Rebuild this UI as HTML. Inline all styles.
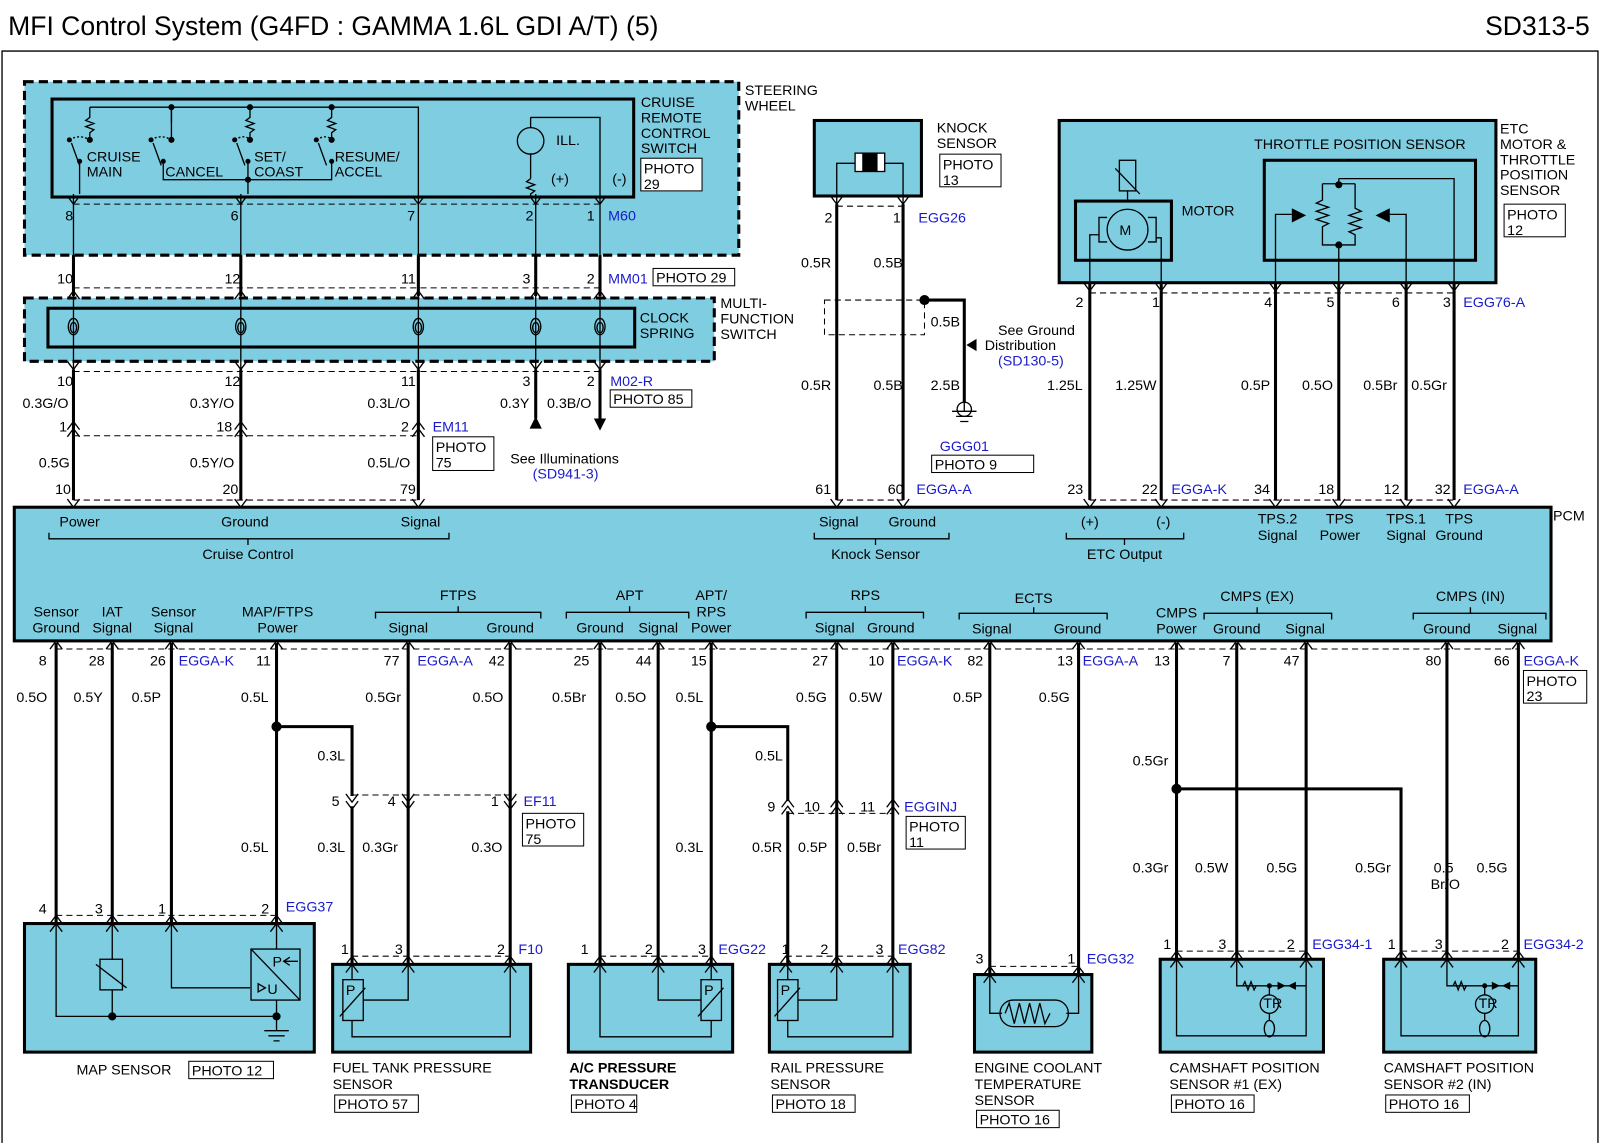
<!DOCTYPE html>
<html><head><meta charset="utf-8"><style>
html,body{margin:0;padding:0;background:#fff}
svg{display:block}
text{font-family:"Liberation Sans",Arial,sans-serif;font-size:14px;fill:#000}
.b{fill:#1a1acc}
.t{font-size:26px}
.bx{fill:#7ecde0;stroke:#000;stroke-width:3}
.ib{fill:none;stroke:#000;stroke-width:3}
.dsh{fill:#7ecde0;stroke:#000;stroke-width:3;stroke-dasharray:9,5}
.w{stroke:#000;stroke-width:3;fill:none}
.tn{stroke:#000;stroke-width:1.3;fill:none}
.cd{stroke:#000;stroke-width:1;stroke-dasharray:6,4;fill:none}
.pb{fill:#fff;stroke:#000;stroke-width:1}
</style></head><body>
<svg width="1600" height="1143" viewBox="0 0 1568 1120" xmlns="http://www.w3.org/2000/svg">
<defs>
<g id="d"><polyline points="-6,-8 0,0 6,-8" class="tn"/></g>
<g id="u"><polyline points="-6,8 0,0 6,8" class="tn"/></g>
<g id="sp"><path d="M0,-8 a5,8 0 1 1 -0.1,0 M0,-4 a3,5 0 1 0 0.1,0" class="tn"/></g>
</defs>
<rect x="0" y="0" width="1568" height="1120" fill="#fff"/>
<text x="8" y="34" class="t">MFI Control System (G4FD : GAMMA 1.6L GDI A/T) (5)</text>
<text x="1558" y="34" class="t" text-anchor="end">SD313-5</text>
<path d="M2,1120 V50 H1566 V1120" class="tn" stroke-width="1.5"/>

<!-- Steering wheel -->
<rect x="24" y="80" width="700" height="170" class="dsh"/>
<rect x="51" y="97" width="570" height="96" class="ib"/>
<g class="tn">
<path d="M88,105 H410 V190 M168,105 V120"/>
<path d="M88,105 V115 l-4,3 8,3 -8,3 8,3 -4,3 V135 M245,105 V115 l-4,3 8,3 -8,3 8,3 -4,3 V135 M325,105 V115 l-4,3 8,3 -8,3 8,3 -4,3 V135 M168,105 V137"/>
<path d="M70,140 l8,22 M150,140 l8,22 M232,140 l8,22 M312,140 l8,22"/>
<path d="M68,137 q10,-6 20,0 M148,137 q10,-6 20,0 M230,137 q10,-6 15,0 M310,137 q10,-6 15,0" stroke-dasharray="2,2"/>
<path d="M160,158 V176 H325 V158 M243,158 V176"/>
<path d="M78,158 V190 M243,176 V190"/>
<path d="M520,115 V125 M520,150 V175 M520,115 H588 V190 M520,175 l-4,3 8,3 -8,3 8,3 -4,3 V192"/>
<circle cx="520" cy="138" r="13"/>
</g>
<g fill="#000"><circle cx="168" cy="105" r="3"/><circle cx="245" cy="105" r="3"/><circle cx="325" cy="105" r="3"/><circle cx="243" cy="176" r="3"/>
<circle cx="88" cy="137" r="3"/><circle cx="168" cy="137" r="3"/><circle cx="245" cy="137" r="3"/><circle cx="325" cy="137" r="3"/>
<circle cx="68" cy="137" r="2.5"/><circle cx="148" cy="137" r="2.5"/><circle cx="230" cy="137" r="2.5"/><circle cx="310" cy="137" r="2.5"/>
<circle cx="78" cy="158" r="2.5"/><circle cx="160" cy="158" r="2.5"/><circle cx="243" cy="158" r="2.5"/><circle cx="325" cy="158" r="2.5"/></g>
<text x="85" y="158">CRUISE</text><text x="85" y="173">MAIN</text>
<text x="162" y="173">CANCEL</text>
<text x="249" y="158">SET/</text><text x="249" y="173">COAST</text>
<text x="328" y="158">RESUME/</text><text x="328" y="173">ACCEL</text>
<text x="545" y="142">ILL.</text><text x="540" y="180">(+)</text><text x="600" y="180">(-)</text>
<text x="628" y="105">CRUISE</text><text x="628" y="120">REMOTE</text><text x="628" y="135">CONTROL</text><text x="628" y="150">SWITCH</text>
<rect x="628" y="155" width="60" height="32" class="pb"/><text x="631" y="170">PHOTO</text><text x="631" y="185">29</text>
<text x="730" y="93">STEERING</text><text x="730" y="108">WHEEL</text>
<path d="M72,200 H588" class="cd"/>
<g class="tn"><path d="M72,190 V262 M236,190 V262 M410,190 V262 M525,190 V262 M588,190 V262"/></g>
<use href="#d" x="72" y="200"/><use href="#d" x="236" y="200"/><use href="#d" x="410" y="200"/><use href="#d" x="525" y="200"/><use href="#d" x="588" y="200"/>
<text x="64" y="216">8</text><text x="226" y="216">6</text><text x="399" y="216">7</text><text x="515" y="216">2</text><text x="575" y="216">1</text><text x="596" y="216" class="b">M60</text>
<g class="w"><path d="M72,250 V290 M236,250 V290 M410,250 V290 M525,250 V290 M588,250 V290"/></g>
<text x="56" y="278">10</text><text x="220" y="278">12</text><text x="393" y="278">11</text><text x="512" y="278">3</text><text x="575" y="278">2</text>
<text x="596" y="278" class="b">MM01</text><rect x="640" y="263" width="80" height="17" class="pb"/><text x="643" y="277">PHOTO 29</text>
<path d="M72,282 H588" class="cd"/>

<!-- Clock spring -->
<rect x="24" y="292" width="676" height="62" class="dsh"/>
<rect x="47" y="302" width="575" height="38" class="ib"/>
<g class="tn"><path d="M72,285 V362 M236,285 V362 M410,285 V362 M525,285 V362 M588,285 V362"/></g>
<use href="#sp" x="72" y="320"/><use href="#sp" x="236" y="320"/><use href="#sp" x="410" y="320"/><use href="#sp" x="525" y="320"/><use href="#sp" x="588" y="320"/>
<use href="#u" x="72" y="285"/><use href="#u" x="236" y="285"/><use href="#u" x="410" y="285"/><use href="#u" x="525" y="285"/><use href="#u" x="588" y="285"/>
<use href="#d" x="72" y="362"/><use href="#d" x="236" y="362"/><use href="#d" x="410" y="362"/><use href="#d" x="525" y="362"/><use href="#d" x="588" y="362"/>
<text x="627" y="316">CLOCK</text><text x="627" y="331">SPRING</text>
<text x="706" y="302">MULTI-</text><text x="706" y="317">FUNCTION</text><text x="706" y="332">SWITCH</text>
<path d="M72,364 H588" class="cd"/>
<text x="56" y="378">10</text><text x="220" y="378">12</text><text x="393" y="378">11</text><text x="512" y="378">3</text><text x="575" y="378">2</text>
<text x="598" y="378" class="b">M02-R</text><rect x="598" y="382" width="80" height="17" class="pb"/><text x="601" y="396">PHOTO 85</text>
<g class="w"><path d="M72,362 V490 M236,362 V490 M410,362 V490 M525,362 V410 M588,362 V410"/></g>
<path d="M519,420 L525,408 L531,420 Z M582,410 L588,422 L594,410 Z"/>
<text x="22" y="400">0.3G/O</text><text x="186" y="400">0.3Y/O</text><text x="360" y="400">0.3L/O</text><text x="490" y="400">0.3Y</text><text x="536" y="400">0.3B/O</text>
<path d="M72,427 H410" class="cd"/>
<use href="#u" x="72" y="413"/><use href="#u" x="72" y="420"/><use href="#u" x="236" y="413"/><use href="#u" x="236" y="420"/><use href="#u" x="410" y="413"/><use href="#u" x="410" y="420"/>
<text x="58" y="423">1</text><text x="212" y="423">18</text><text x="393" y="423">2</text><text x="424" y="423" class="b">EM11</text>
<rect x="424" y="428" width="60" height="33" class="pb"/><text x="427" y="443">PHOTO</text><text x="427" y="458">75</text>
<text x="500" y="454">See Illuminations</text><text x="522" y="469" class="b">(SD941-3)</text>
<text x="38" y="458">0.5G</text><text x="186" y="458">0.5Y/O</text><text x="360" y="458">0.5L/O</text>

<!-- Knock sensor -->
<rect x="798" y="118" width="105" height="74" class="bx"/>
<g class="tn"><path d="M820,200 V160 H838 M867,160 H885 V200"/><rect x="838" y="150" width="29" height="18" fill="#fff"/></g>
<rect x="845" y="150" width="15" height="18" fill="#000"/>
<text x="918" y="130">KNOCK</text><text x="918" y="145">SENSOR</text>
<rect x="921" y="151" width="60" height="32" class="pb"/><text x="924" y="166">PHOTO</text><text x="924" y="181">13</text>
<path d="M820,202 H885" class="cd"/><use href="#d" x="820" y="200"/><use href="#d" x="885" y="200"/>
<text x="808" y="218">2</text><text x="875" y="218">1</text><text x="900" y="218" class="b">EGG26</text>
<g class="w"><path d="M820,200 V490 M885,200 V490 M906,294 H945 V395"/></g>
<circle cx="906" cy="294" r="5"/>
<rect x="808" y="294" width="98" height="34" class="cd"/>
<path d="M957,332 L947,338 957,344 Z"/>
<g class="tn"><path d="M945,395 V403 M933,403 H957 M937,408 H953 M941,413 H949"/><circle cx="945" cy="401" r="7" fill="none"/></g>
<text x="785" y="262">0.5R</text><text x="856" y="262">0.5B</text>
<text x="912" y="320">0.5B</text>
<text x="978" y="328">See Ground</text><text x="965" y="343">Distribution</text><text x="978" y="358" class="b">(SD130-5)</text>
<text x="785" y="382">0.5R</text><text x="856" y="382">0.5B</text><text x="912" y="382">2.5B</text>
<text x="921" y="442" class="b">GGG01</text><rect x="913" y="446" width="100" height="17" class="pb"/><text x="916" y="460">PHOTO 9</text>

<!-- ETC -->
<rect x="1038" y="118" width="428" height="159" class="bx"/>
<rect x="1054" y="197" width="94" height="58" class="ib"/>
<rect x="1239" y="157" width="207" height="98" class="ib"/>
<g class="tn">
<rect x="1097" y="157" width="16" height="30"/><path d="M1093,165 L1117,190 M1105,187 V197"/>
<circle cx="1105" cy="225" r="20"/>
<path d="M1085,213 H1077 V237 H1085 M1125,213 H1133 V237 H1125 M1077,230 H1068 V285 M1133,233 H1138 V285"/>
<path d="M1312,175 H1425 V285 M1312,175 V180 M1296,180 H1328 M1296,180 V196 l-6,3 12,4 -12,4 12,4 -12,4 12,4 -6,3 V240 H1328 V230 l-6,-3 12,-4 -12,-4 12,-4 -12,-4 12,-4 -6,-3 V180 M1312,240 V285"/>
<path d="M1250,285 V210 H1266 M1378,285 V210 H1362"/>
</g>
<path d="M1266,204 L1280,211 1266,218 Z M1362,204 L1348,211 1362,218 Z"/>
<circle cx="1312" cy="181" r="3.5"/><circle cx="1312" cy="240" r="3.5"/>
<text x="1097" y="230" font-size="12">M</text>
<text x="1158" y="211">MOTOR</text>
<text x="1229" y="146">THROTTLE POSITION SENSOR</text>
<text x="1470" y="131">ETC</text><text x="1470" y="146">MOTOR &amp;</text><text x="1470" y="161">THROTTLE</text><text x="1470" y="176">POSITION</text><text x="1470" y="191">SENSOR</text>
<rect x="1474" y="200" width="60" height="32" class="pb"/><text x="1477" y="215">PHOTO</text><text x="1477" y="230">12</text>
<path d="M1068,287 H1425" class="cd"/>
<use href="#d" x="1068" y="285"/><use href="#d" x="1138" y="285"/><use href="#d" x="1250" y="285"/><use href="#d" x="1312" y="285"/><use href="#d" x="1378" y="285"/><use href="#d" x="1425" y="285"/>
<text x="1054" y="301">2</text><text x="1129" y="301">1</text><text x="1239" y="301">4</text><text x="1300" y="301">5</text><text x="1364" y="301">6</text><text x="1414" y="301">3</text><text x="1434" y="301" class="b">EGG76-A</text>
<g class="w"><path d="M1068,277 V490 M1138,277 V490 M1250,277 V490 M1312,277 V490 M1378,277 V490 M1425,277 V490"/></g>
<text x="1026" y="382">1.25L</text><text x="1093" y="382">1.25W</text><text x="1216" y="382">0.5P</text><text x="1276" y="382">0.5O</text><text x="1336" y="382">0.5Br</text><text x="1383" y="382">0.5Gr</text>

<!-- PCM top connector -->
<path d="M72,490 H410 M820,490 H885 M1068,490 H1425" class="cd"/>
<g>
<use href="#d" x="72" y="497"/><use href="#d" x="236" y="497"/><use href="#d" x="410" y="497"/><use href="#d" x="820" y="497"/><use href="#d" x="885" y="497"/>
<use href="#d" x="1068" y="497"/><use href="#d" x="1138" y="497"/><use href="#d" x="1250" y="497"/><use href="#d" x="1312" y="497"/><use href="#d" x="1378" y="497"/><use href="#d" x="1425" y="497"/>
</g>
<text x="54" y="484">10</text><text x="218" y="484">20</text><text x="392" y="484">79</text><text x="799" y="484">61</text><text x="870" y="484">60</text><text x="898" y="484" class="b">EGGA-A</text>
<text x="1046" y="484">23</text><text x="1119" y="484">22</text><text x="1148" y="484" class="b">EGGA-K</text>
<text x="1229" y="484">34</text><text x="1292" y="484">18</text><text x="1356" y="484">12</text><text x="1406" y="484">32</text><text x="1434" y="484" class="b">EGGA-A</text>

<!-- PCM -->
<rect x="14" y="497" width="1506" height="131" class="bx"/>
<text x="1522" y="510">PCM</text>
<g text-anchor="middle">
<text x="78" y="516">Power</text><text x="240" y="516">Ground</text><text x="412" y="516">Signal</text>
<text x="822" y="516">Signal</text><text x="894" y="516">Ground</text>
<text x="1068" y="516">(+)</text><text x="1140" y="516">(-)</text>
<text x="1252" y="513">TPS.2</text><text x="1252" y="529">Signal</text><text x="1313" y="513">TPS</text><text x="1313" y="529">Power</text>
<text x="1378" y="513">TPS.1</text><text x="1378" y="529">Signal</text><text x="1430" y="513">TPS</text><text x="1430" y="529">Ground</text>
<text x="243" y="548">Cruise Control</text><text x="858" y="548">Knock Sensor</text><text x="1102" y="548">ETC Output</text>
<text x="449" y="588">FTPS</text><text x="617" y="588">APT</text><text x="697" y="588">APT/</text><text x="697" y="604">RPS</text>
<text x="848" y="588">RPS</text><text x="1013" y="591">ECTS</text><text x="1232" y="589">CMPS (EX)</text><text x="1441" y="589">CMPS (IN)</text>
<text x="55" y="604">Sensor</text><text x="55" y="620">Ground</text><text x="110" y="604">IAT</text><text x="110" y="620">Signal</text>
<text x="170" y="604">Sensor</text><text x="170" y="620">Signal</text><text x="272" y="604">MAP/FTPS</text><text x="272" y="620">Power</text>
<text x="400" y="620">Signal</text><text x="500" y="620">Ground</text><text x="588" y="620">Ground</text><text x="645" y="620">Signal</text><text x="697" y="620">Power</text>
<text x="818" y="620">Signal</text><text x="873" y="620">Ground</text><text x="972" y="621">Signal</text><text x="1056" y="621">Ground</text>
<text x="1153" y="605">CMPS</text><text x="1153" y="621">Power</text><text x="1212" y="621">Ground</text><text x="1279" y="621">Signal</text>
<text x="1418" y="621">Ground</text><text x="1487" y="621">Signal</text>
</g>
<g class="tn">
<path d="M48,522 V528 H440 V522 M243,528 V534"/>
<path d="M798,522 V528 H930 V522 M858,528 V534"/>
<path d="M1045,522 V528 H1160 V522 M1102,528 V534"/>
<path d="M368,606 V600 H530 V606 M449,600 V594"/>
<path d="M555,606 V600 H675 V606 M617,600 V594"/>
<path d="M790,606 V600 H905 V606 M848,600 V594"/>
<path d="M940,607 V601 H1085 V607 M1013,601 V595"/>
<path d="M1180,607 V601 H1305 V607 M1232,601 V595"/>
<path d="M1385,607 V601 H1515 V607 M1441,601 V595"/>
</g>

<!-- PCM bottom -->
<g>
<use href="#u" x="55" y="628"/><use href="#u" x="110" y="628"/><use href="#u" x="168" y="628"/><use href="#u" x="271" y="628"/><use href="#u" x="400" y="628"/><use href="#u" x="500" y="628"/>
<use href="#u" x="588" y="628"/><use href="#u" x="645" y="628"/><use href="#u" x="697" y="628"/><use href="#u" x="820" y="628"/><use href="#u" x="875" y="628"/>
<use href="#u" x="970" y="628"/><use href="#u" x="1057" y="628"/><use href="#u" x="1153" y="628"/><use href="#u" x="1212" y="628"/><use href="#u" x="1280" y="628"/><use href="#u" x="1418" y="628"/><use href="#u" x="1488" y="628"/>
</g>
<path d="M55,636 H1488" class="cd"/>
<text x="38" y="652">8</text><text x="87" y="652">28</text><text x="147" y="652">26</text><text x="175" y="652" class="b">EGGA-K</text><text x="251" y="652">11</text>
<text x="376" y="652">77</text><text x="409" y="652" class="b">EGGA-A</text><text x="479" y="652">42</text>
<text x="562" y="652">25</text><text x="623" y="652">44</text><text x="677" y="652">15</text>
<text x="796" y="652">27</text><text x="851" y="652">10</text><text x="879" y="652" class="b">EGGA-K</text>
<text x="948" y="652">82</text><text x="1036" y="652">13</text><text x="1061" y="652" class="b">EGGA-A</text>
<text x="1131" y="652">13</text><text x="1198" y="652">7</text><text x="1258" y="652">47</text><text x="1397" y="652">80</text><text x="1464" y="652">66</text><text x="1493" y="652" class="b">EGGA-K</text>
<rect x="1493" y="657" width="62" height="32" class="pb"/><text x="1496" y="672">PHOTO</text><text x="1496" y="687">23</text>

<g class="w">
<path d="M55,630 V905 M110,630 V905 M168,630 V905 M271,630 V905 M271,712 H345 V780"/>
<path d="M400,630 V945 M500,630 V945 M345,790 V945"/>
<path d="M588,630 V945 M645,630 V945 M697,630 V945 M697,712 H772 V785 M772,795 V945"/>
<path d="M820,630 V945 M875,630 V945"/>
<path d="M970,630 V955 M1057,630 V955"/>
<path d="M1153,630 V940 M1212,630 V940 M1280,630 V940 M1153,773 H1373 V940 M1418,630 V940 M1488,630 V940"/>
</g>
<circle cx="271" cy="712" r="5"/><circle cx="697" cy="712" r="5"/><circle cx="1153" cy="773" r="5"/>
<text x="16" y="688">0.5O</text><text x="72" y="688">0.5Y</text><text x="129" y="688">0.5P</text><text x="236" y="688">0.5L</text>
<text x="358" y="688">0.5Gr</text><text x="463" y="688">0.5O</text><text x="541" y="688">0.5Br</text><text x="603" y="688">0.5O</text><text x="662" y="688">0.5L</text>
<text x="780" y="688">0.5G</text><text x="832" y="688">0.5W</text><text x="934" y="688">0.5P</text><text x="1018" y="688">0.5G</text>
<text x="311" y="745">0.3L</text><text x="740" y="745">0.5L</text><text x="1110" y="750">0.5Gr</text>

<!-- EF11 -->
<path d="M345,779 H500" class="cd"/>
<use href="#d" x="345" y="786"/><use href="#d" x="345" y="793"/><use href="#d" x="400" y="786"/><use href="#d" x="400" y="793"/><use href="#d" x="500" y="786"/><use href="#d" x="500" y="793"/>
<text x="325" y="790">5</text><text x="380" y="790">4</text><text x="481" y="790">1</text><text x="513" y="790" class="b">EF11</text>
<rect x="512" y="797" width="60" height="32" class="pb"/><text x="515" y="812">PHOTO</text><text x="515" y="827">75</text>
<!-- EGGINJ -->
<path d="M772,797 H875" class="cd"/>
<use href="#u" x="772" y="783"/><use href="#u" x="772" y="790"/><use href="#u" x="820" y="783"/><use href="#u" x="820" y="790"/><use href="#u" x="875" y="783"/><use href="#u" x="875" y="790"/>
<text x="752" y="795">9</text><text x="788" y="795">10</text><text x="843" y="795">11</text><text x="886" y="795" class="b">EGGINJ</text>
<rect x="888" y="800" width="58" height="32" class="pb"/><text x="891" y="815">PHOTO</text><text x="891" y="830">11</text>

<text x="236" y="835">0.5L</text><text x="311" y="835">0.3L</text><text x="355" y="835">0.3Gr</text><text x="462" y="835">0.3O</text><text x="662" y="835">0.3L</text>
<text x="737" y="835">0.5R</text><text x="782" y="835">0.5P</text><text x="830" y="835">0.5Br</text>
<text x="1110" y="855">0.3Gr</text><text x="1171" y="855">0.5W</text><text x="1241" y="855">0.5G</text><text x="1328" y="855">0.5Gr</text><text x="1405" y="855">0.5</text><text x="1402" y="871">Br/O</text><text x="1447" y="855">0.5G</text>

<!-- MAP -->
<rect x="24" y="905" width="284" height="126" class="bx"/>
<path d="M55,897 H271" class="cd"/>
<use href="#u" x="55" y="897"/><use href="#u" x="110" y="897"/><use href="#u" x="168" y="897"/><use href="#u" x="271" y="897"/>
<use href="#u" x="55" y="905"/><use href="#u" x="110" y="905"/><use href="#u" x="168" y="905"/><use href="#u" x="271" y="905"/>
<text x="38" y="895">4</text><text x="93" y="895">3</text><text x="155" y="895">1</text><text x="256" y="895">2</text><text x="280" y="893" class="b">EGG37</text>
<g class="tn">
<path d="M55,905 V996 H271 M110,905 V940 M110,970 V996 M168,905 V968 H245 M271,905 V930 M271,980 V1010 M259,1010 H283 M263,1015 H279 M268,1020 H274"/>
<rect x="98" y="940" width="22" height="30"/><path d="M94,945 L124,968"/>
<rect x="246" y="930" width="48" height="50"/><path d="M246,930 L294,980"/>
<path d="M278,942 H292 M284,938 L278,942 284,946 M260,968 L253,964 253,972 Z"/>
</g>
<circle cx="110" cy="996" r="4"/><circle cx="271" cy="996" r="4"/>
<text x="267" y="947" font-size="13">P</text><text x="262" y="974" font-size="13">U</text>
<text x="75" y="1053">MAP SENSOR</text><rect x="185" y="1040" width="83" height="17" class="pb"/><text x="188" y="1054">PHOTO 12</text>

<!-- FTPS -->
<rect x="326" y="945" width="194" height="86" class="bx"/>
<path d="M345,937 H500" class="cd"/>
<use href="#u" x="345" y="937"/><use href="#u" x="400" y="937"/><use href="#u" x="500" y="937"/><use href="#u" x="345" y="945"/><use href="#u" x="400" y="945"/><use href="#u" x="500" y="945"/>
<text x="334" y="935">1</text><text x="387" y="935">3</text><text x="487" y="935">2</text><text x="508" y="935" class="b">F10</text>
<g class="tn"><rect x="336" y="960" width="20" height="40"/><path d="M333,996 L358,968 M356,980 H400 V945 M345,1000 V1016 H500 V945 M345,945 V960"/></g>
<text x="339" y="975" font-size="13">P</text>
<text x="326" y="1051">FUEL TANK PRESSURE</text><text x="326" y="1067">SENSOR</text>
<rect x="328" y="1073" width="82" height="17" class="pb"/><text x="331" y="1087">PHOTO 57</text>

<!-- A/C -->
<rect x="557" y="945" width="161" height="86" class="bx"/>
<path d="M588,937 H697" class="cd"/>
<use href="#u" x="588" y="937"/><use href="#u" x="645" y="937"/><use href="#u" x="697" y="937"/><use href="#u" x="588" y="945"/><use href="#u" x="645" y="945"/><use href="#u" x="697" y="945"/>
<text x="569" y="935">1</text><text x="632" y="935">2</text><text x="684" y="935">3</text><text x="704" y="935" class="b">EGG22</text>
<g class="tn"><rect x="687" y="960" width="20" height="40"/><path d="M684,996 L709,968 M697,945 V960 M687,980 H645 V945 M697,1000 V1016 H588 V945"/></g>
<text x="690" y="975" font-size="13">P</text>
<text x="558" y="1051" font-weight="bold">A/C PRESSURE</text><text x="558" y="1067" font-weight="bold">TRANSDUCER</text>
<rect x="560" y="1073" width="64" height="17" class="pb"/><text x="563" y="1087">PHOTO 4</text>

<!-- RPS -->
<rect x="754" y="945" width="138" height="86" class="bx"/>
<path d="M770,937 H875" class="cd"/>
<use href="#u" x="770" y="937"/><use href="#u" x="820" y="937"/><use href="#u" x="875" y="937"/><use href="#u" x="770" y="945"/><use href="#u" x="820" y="945"/><use href="#u" x="875" y="945"/>
<text x="766" y="935">1</text><text x="804" y="935">2</text><text x="858" y="935">3</text><text x="880" y="935" class="b">EGG82</text>
<g class="tn"><rect x="762" y="960" width="20" height="40"/><path d="M759,996 L784,968 M772,945 V960 M782,980 H820 V945 M772,1000 V1016 H875 V945"/></g>
<text x="765" y="975" font-size="13">P</text>
<text x="755" y="1051">RAIL PRESSURE</text><text x="755" y="1067">SENSOR</text>
<rect x="757" y="1073" width="81" height="17" class="pb"/><text x="760" y="1087">PHOTO 18</text>

<!-- ECTS -->
<rect x="955" y="955" width="115" height="76" class="bx"/>
<path d="M970,947 H1057" class="cd"/>
<use href="#u" x="970" y="947"/><use href="#u" x="1057" y="947"/><use href="#u" x="970" y="955"/><use href="#u" x="1057" y="955"/>
<text x="956" y="944">3</text><text x="1046" y="944">1</text><text x="1065" y="944" class="b">EGG32</text>
<g class="tn"><path d="M970,955 V993 H982 M1045,993 H1057 V955 M985,993 l4,-10 5,20 5,-20 5,20 5,-20 5,20 5,-20 5,20 5,-10"/><rect x="980" y="980" width="67" height="26" rx="13"/></g>
<text x="955" y="1051">ENGINE COOLANT</text><text x="955" y="1067">TEMPERATURE</text><text x="955" y="1083">SENSOR</text>
<rect x="957" y="1088" width="81" height="17" class="pb"/><text x="960" y="1102">PHOTO 16</text>

<!-- CMPS 1 -->
<rect x="1137" y="940" width="160" height="91" class="bx"/>
<path d="M1153,932 H1280" class="cd"/>
<use href="#u" x="1153" y="932"/><use href="#u" x="1212" y="932"/><use href="#u" x="1280" y="932"/><use href="#u" x="1153" y="940"/><use href="#u" x="1212" y="940"/><use href="#u" x="1280" y="940"/>
<text x="1140" y="930">1</text><text x="1194" y="930">3</text><text x="1261" y="930">2</text><text x="1286" y="930" class="b">EGG34-1</text>
<g class="tn"><path d="M1153,940 V1015 H1280 V940 M1212,940 V966 H1280 M1218,966 l2,-4 3,8 3,-8 3,8 2,-4 M1244,966 V975 M1244,993 V1000"/><circle cx="1244" cy="984" r="9"/><ellipse cx="1244" cy="1008" rx="5" ry="8"/></g>
<path d="M1252,962 L1260,966 1252,970Z M1264,962 L1264,970 M1270,962 L1262,966 1270,970Z"/>
<circle cx="1244" cy="966" r="2.5"/>
<text x="1238" y="988" font-size="9">TR</text>
<text x="1146" y="1051">CAMSHAFT POSITION</text><text x="1146" y="1067">SENSOR #1 (EX)</text>
<rect x="1148" y="1073" width="81" height="17" class="pb"/><text x="1151" y="1087">PHOTO 16</text>

<!-- CMPS 2 -->
<rect x="1356" y="940" width="149" height="91" class="bx"/>
<path d="M1373,932 H1488" class="cd"/>
<use href="#u" x="1373" y="932"/><use href="#u" x="1418" y="932"/><use href="#u" x="1488" y="932"/><use href="#u" x="1373" y="940"/><use href="#u" x="1418" y="940"/><use href="#u" x="1488" y="940"/>
<text x="1360" y="930">1</text><text x="1406" y="930">3</text><text x="1471" y="930">2</text><text x="1493" y="930" class="b">EGG34-2</text>
<g class="tn"><path d="M1373,940 V1015 H1488 V940 M1418,940 V966 H1488 M1424,966 l2,-4 3,8 3,-8 3,8 2,-4 M1455,966 V975 M1455,993 V1000"/><circle cx="1455" cy="984" r="9"/><ellipse cx="1455" cy="1008" rx="5" ry="8"/></g>
<path d="M1462,962 L1470,966 1462,970Z M1474,962 L1474,970 M1480,962 L1472,966 1480,970Z"/>
<circle cx="1455" cy="966" r="2.5"/>
<text x="1449" y="988" font-size="9">TR</text>
<text x="1356" y="1051">CAMSHAFT POSITION</text><text x="1356" y="1067">SENSOR #2 (IN)</text>
<rect x="1358" y="1073" width="82" height="17" class="pb"/><text x="1361" y="1087">PHOTO 16</text>
</svg>
</body></html>
